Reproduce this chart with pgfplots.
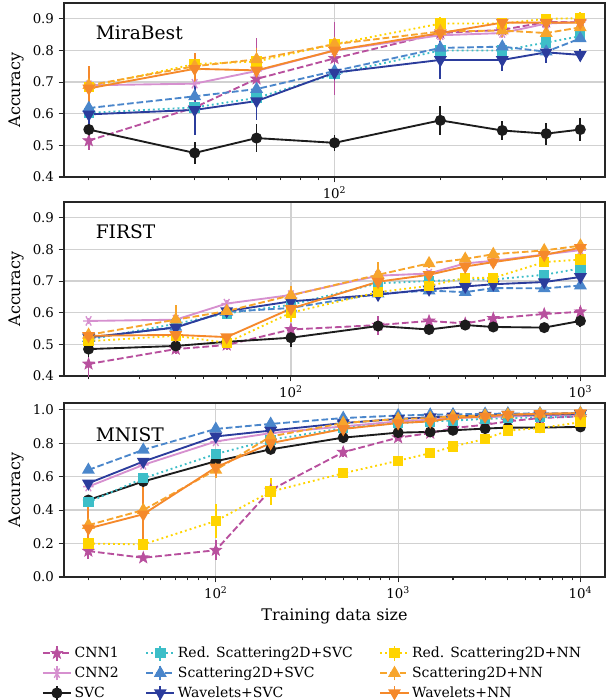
\documentclass[border=0pt]{standalone}
\usepackage{fontspec}
\setmainfont{DejaVu Serif}
\usepackage{pgfplots}
\pgfplotsset{compat=1.18}
\usetikzlibrary{plotmarks}

\definecolor{cA}{HTML}{B8509E}
\definecolor{cB}{HTML}{D690CF}
\definecolor{cC}{HTML}{1C1C1C}
\definecolor{cD}{HTML}{3DBEC8}
\definecolor{cE}{HTML}{4A86CB}
\definecolor{cF}{HTML}{2B3C9C}
\definecolor{cG}{HTML}{FFD400}
\definecolor{cH}{HTML}{F7A52C}
\definecolor{cI}{HTML}{F5892B}

\pgfdeclareplotmark{fstar}{%
  \pgfpathmoveto{\pgfqpointpolar{90}{1.15\pgfplotmarksize}}%
  \pgfpathlineto{\pgfqpointpolar{126}{0.47\pgfplotmarksize}}%
  \pgfpathlineto{\pgfqpointpolar{162}{1.15\pgfplotmarksize}}%
  \pgfpathlineto{\pgfqpointpolar{198}{0.47\pgfplotmarksize}}%
  \pgfpathlineto{\pgfqpointpolar{234}{1.15\pgfplotmarksize}}%
  \pgfpathlineto{\pgfqpointpolar{270}{0.47\pgfplotmarksize}}%
  \pgfpathlineto{\pgfqpointpolar{306}{1.15\pgfplotmarksize}}%
  \pgfpathlineto{\pgfqpointpolar{342}{0.47\pgfplotmarksize}}%
  \pgfpathlineto{\pgfqpointpolar{18}{1.15\pgfplotmarksize}}%
  \pgfpathlineto{\pgfqpointpolar{54}{0.47\pgfplotmarksize}}%
  \pgfpathclose
  \pgfusepathqfillstroke
}

\tikzset{
  mydashed/.style={dash pattern=on 5pt off 2.2pt},
  mydotted/.style={dash pattern=on 1.4pt off 2.3pt},
  sCNNa/.style={color=cA, line width=1.4pt, mydashed, mark=fstar, mark size=4pt, mark options={solid, line width=0.5pt}},
  sCNNb/.style={color=cB, line width=1.4pt, solid, mark=asterisk, mark size=4pt, mark options={solid, rotate=90, line width=1pt}},
  sSVC/.style={color=cC, line width=1.4pt, solid, mark=*, mark size=3.4pt, mark options={solid}},
  sRSVC/.style={color=cD, line width=1.4pt, mydotted, mark=square*, mark size=3.2pt, mark options={solid}},
  sSSVC/.style={color=cE, line width=1.4pt, mydashed, mark=triangle*, mark size=4.2pt, mark options={solid}},
  sWSVC/.style={color=cF, line width=1.4pt, solid, mark=triangle*, mark size=4.2pt, mark options={solid, rotate=180}},
  sRNN/.style={color=cG, line width=1.4pt, mydotted, mark=square*, mark size=3.2pt, mark options={solid}},
  sSNN/.style={color=cH, line width=1.4pt, mydashed, mark=triangle*, mark size=4.2pt, mark options={solid}},
  sWNN/.style={color=cI, line width=1.4pt, solid, mark=triangle*, mark size=4.2pt, mark options={solid, rotate=180}},
}
\pgfplotsset{
  every axis/.append style={
    scale only axis, width=405.75pt, height=130.5pt,
    grid=major, major grid style={draw=black!18, line width=0.9pt},
    axis line style={line width=0.9pt, draw=black!85},
    tick style={black!85, line width=0.8pt},
    tick align=outside,
    major tick length=4pt, minor tick length=2.6pt,
    xtick pos=bottom, ytick pos=left,
    ticklabel style={font=\fontsize{10}{12}\selectfont},
    yticklabel style={/pgf/number format/fixed, /pgf/number format/precision=1, /pgf/number format/fixed zerofill},
    ylabel={Accuracy},
    ylabel style={font=\fontsize{12}{14}\selectfont},
    xlabel style={font=\fontsize{12}{14}\selectfont},
    clip=false,
  },
  every axis plot/.append style={
    error bars/y dir=both, error bars/y explicit,
    error bars/error mark=none,
    error bars/error bar style={line width=1.4pt, solid},
  },
}

\begin{document}
\begin{tikzpicture}
\useasboundingbox (0,0) rectangle (459.75pt,525pt);

% ---------------- MiraBest ----------------
\begin{axis}[xmode=log, at={(48pt,392.25pt)}, anchor=south west,
  /pgf/number format/assume math mode=true,
  xmin=17, xmax=588, ymin=0.4, ymax=0.95,
  xtick={100}, xticklabels={10\textsuperscript{2}},
  minor xtick={20,30,40,50,60,70,80,90,200,300,400,500},
  ytick={0.4,0.5,0.6,0.7,0.8,0.9}]
\node[anchor=west, font=\fontsize{14}{16}\selectfont] at (rel axis cs:0.05,0.83) {MiraBest};
\addplot[sCNNa] table[y error index=2] {
20 0.515 0.03
40 0.620 0.085
60 0.710 0.13
100 0.775 0.115
200 0.855 0.02
300 0.865 0.02
400 0.890 0.02
500 0.890 0.02
};
\addplot[sCNNb] table[y error index=2] {
20 0.690 0.01
40 0.695 0.01
60 0.735 0.02
100 0.800 0.02
200 0.848 0.02
300 0.855 0.015
400 0.885 0.01
500 0.890 0.01
};
\addplot[sSVC] table[y error index=2] {
20 0.550 0.02
40 0.476 0.035
60 0.523 0.045
100 0.508 0.025
200 0.579 0.045
300 0.547 0.03
400 0.537 0.035
500 0.550 0.035
};
\addplot[sRSVC] table[y error index=2] {
20 0.603 0.015
40 0.620 0.01
60 0.650 0.015
100 0.725 0.015
200 0.800 0.01
300 0.800 0.01
400 0.825 0.01
500 0.845 0.01
};
\addplot[sSSVC] table[y error index=2] {
20 0.618 0.01
40 0.655 0.01
60 0.678 0.015
100 0.735 0.01
200 0.808 0.01
300 0.812 0.01
400 0.796 0.01
500 0.838 0.01
};
\addplot[sWSVC] table[y error index=2] {
20 0.598 0.03
40 0.612 0.08
60 0.640 0.06
100 0.730 0.02
200 0.770 0.06
300 0.770 0.035
400 0.794 0.035
500 0.786 0.02
};
\addplot[sRNN] table[y error index=2] {
20 0.685 0.02
40 0.757 0.015
60 0.765 0.02
100 0.820 0.015
200 0.885 0.02
300 0.885 0.01
400 0.900 0.015
500 0.902 0.02
};
\addplot[sSNN] table[y error index=2] {
20 0.690 0.02
40 0.750 0.02
60 0.772 0.02
100 0.820 0.02
200 0.860 0.02
300 0.863 0.02
400 0.855 0.02
500 0.873 0.01
};
\addplot[sWNN] table[y error index=2] {
20 0.680 0.07
40 0.742 0.05
60 0.737 0.07
100 0.800 0.03
200 0.855 0.02
300 0.888 0.015
400 0.888 0.02
500 0.888 0.015
};
\end{axis}

% ---------------- FIRST ----------------
\begin{axis}[xmode=log, at={(48pt,243pt)}, anchor=south west,
  /pgf/number format/assume math mode=true,
  xmin=16.45, xmax=1216, ymin=0.4, ymax=0.95,
  xtick={100,1000}, xticklabels={10\textsuperscript{2},10\textsuperscript{3}},
  minor xtick={20,30,40,50,60,70,80,90,200,300,400,500,600,700,800,900},
  ytick={0.4,0.5,0.6,0.7,0.8,0.9}]
\node[anchor=west, font=\fontsize{14}{16}\selectfont] at (rel axis cs:0.05,0.83) {FIRST};
\addplot[sCNNa] table[y error index=2] {
20 0.438 0.04
40 0.485 0.015
60 0.498 0.015
100 0.547 0.01
200 0.561 0.03
300 0.574 0.015
400 0.566 0.01
500 0.582 0.01
750 0.596 0.01
1000 0.603 0.015
};
\addplot[sCNNb] table[y error index=2] {
20 0.574 0.01
40 0.578 0.01
60 0.629 0.01
100 0.656 0.03
200 0.717 0.02
300 0.724 0.01
400 0.756 0.01
500 0.764 0.01
750 0.784 0.01
1000 0.798 0.01
};
\addplot[sSVC] table[y error index=2] {
20 0.485 0.025
40 0.495 0.02
60 0.508 0.01
100 0.521 0.03
200 0.558 0.015
300 0.547 0.015
400 0.561 0.01
500 0.555 0.015
750 0.553 0.015
1000 0.574 0.02
};
\addplot[sRSVC] table[y error index=2] {
20 0.515 0.01
40 0.565 0.01
60 0.598 0.01
100 0.625 0.01
200 0.693 0.01
300 0.700 0.01
400 0.705 0.01
500 0.705 0.01
750 0.720 0.01
1000 0.740 0.01
};
\addplot[sSSVC] table[y error index=2] {
20 0.520 0.01
40 0.555 0.01
60 0.603 0.01
100 0.615 0.01
200 0.660 0.01
300 0.670 0.01
400 0.665 0.01
500 0.678 0.01
750 0.677 0.01
1000 0.686 0.01
};
\addplot[sWSVC] table[y error index=2] {
20 0.522 0.01
40 0.553 0.01
60 0.605 0.01
100 0.636 0.01
200 0.657 0.01
300 0.674 0.01
400 0.683 0.01
500 0.690 0.01
750 0.697 0.01
1000 0.713 0.01
};
\addplot[sRNN] table[y error index=2] {
20 0.510 0.01
40 0.527 0.01
60 0.505 0.01
100 0.600 0.03
200 0.665 0.02
300 0.685 0.03
400 0.710 0.01
500 0.710 0.01
750 0.760 0.01
1000 0.768 0.015
};
\addplot[sSNN] table[y error index=2] {
20 0.530 0.015
40 0.578 0.045
60 0.605 0.015
100 0.655 0.03
200 0.720 0.04
300 0.756 0.015
400 0.770 0.015
500 0.785 0.015
750 0.797 0.015
1000 0.812 0.015
};
\addplot[sWNN] table[y error index=2] {
20 0.527 0.01
40 0.530 0.01
60 0.523 0.01
100 0.613 0.02
200 0.698 0.02
300 0.720 0.01
400 0.746 0.01
500 0.760 0.01
750 0.783 0.01
1000 0.805 0.01
};
\end{axis}

% ---------------- MNIST ----------------
\begin{axis}[xmode=log, at={(48pt,92.25pt)}, anchor=south west,
  /pgf/number format/assume math mode=true,
  xmin=14.7, xmax=13640, ymin=0, ymax=1.04,
  xtick={100,1000,10000}, xticklabels={10\textsuperscript{2},10\textsuperscript{3},10\textsuperscript{4}},
  minor xtick={20,30,40,50,60,70,80,90,200,300,400,500,600,700,800,900,2000,3000,4000,5000,6000,7000,8000,9000},
  ytick={0,0.2,0.4,0.6,0.8,1.0},
  xlabel={Training data size},
  legend columns=3,
  legend cell align=left,
  legend style={draw=none, fill=none, at={(0.46,-0.37)}, anchor=north,
    font=\fontsize{10.5}{12.5}\selectfont, row sep=1.5pt,
    /tikz/every even column/.append style={column sep=18pt}},
  legend image code/.code={
    \draw[#1, mark=none, solid] (0.37cm,-0.19cm) -- (0.37cm,0.19cm);
    \draw[mark repeat=2, mark phase=2, #1] plot coordinates {(0cm,0cm) (0.37cm,0cm) (0.74cm,0cm)};
  }]
\node[anchor=west, font=\fontsize{14}{16}\selectfont] at (rel axis cs:0.05,0.815) {MNIST};
\addplot[sCNNa, forget plot] table[y error index=2] {
20 0.155 0.05
40 0.115 0.01
100 0.160 0.06
200 0.520 0.04
500 0.746 0.03
1000 0.833 0.01
1500 0.860 0.01
2000 0.890 0.01
3000 0.910 0.01
4000 0.930 0.01
6000 0.950 0.01
10000 0.960 0.01
};
\addplot[sCNNb, forget plot] table[y error index=2] {
20 0.540 0.01
40 0.670 0.01
100 0.810 0.01
200 0.860 0.01
500 0.900 0.01
1000 0.930 0.01
1500 0.940 0.01
2000 0.950 0.01
3000 0.955 0.01
4000 0.960 0.01
6000 0.965 0.01
10000 0.970 0.01
};
\addplot[sSVC, forget plot] table[y error index=2] {
20 0.460 0.01
40 0.571 0.01
100 0.692 0.01
200 0.763 0.01
500 0.833 0.01
1000 0.863 0.01
1500 0.867 0.01
2000 0.877 0.01
3000 0.887 0.01
4000 0.893 0.01
6000 0.893 0.01
10000 0.897 0.01
};
\addplot[sRSVC, forget plot] table[y error index=2] {
20 0.447 0.01
40 0.590 0.01
100 0.735 0.01
200 0.820 0.01
500 0.890 0.01
1000 0.920 0.01
1500 0.930 0.01
2000 0.935 0.01
3000 0.945 0.01
4000 0.950 0.01
6000 0.955 0.01
10000 0.960 0.01
};
\addplot[sSSVC, forget plot] table[y error index=2] {
20 0.640 0.01
40 0.760 0.01
100 0.885 0.01
200 0.915 0.01
500 0.950 0.01
1000 0.965 0.01
1500 0.970 0.01
2000 0.972 0.01
3000 0.975 0.01
4000 0.977 0.01
6000 0.978 0.01
10000 0.980 0.01
};
\addplot[sWSVC, forget plot] table[y error index=2] {
20 0.560 0.01
40 0.690 0.01
100 0.840 0.01
200 0.875 0.01
500 0.920 0.01
1000 0.945 0.01
1500 0.955 0.01
2000 0.960 0.01
3000 0.965 0.01
4000 0.970 0.01
6000 0.970 0.01
10000 0.975 0.01
};
\addplot[sRNN, forget plot] table[y error index=2] {
20 0.200 0.01
40 0.195 0.01
100 0.335 0.10
200 0.510 0.08
500 0.620 0.01
1000 0.695 0.01
1500 0.740 0.01
2000 0.780 0.01
3000 0.825 0.01
4000 0.875 0.01
6000 0.890 0.01
10000 0.925 0.01
};
\addplot[sSNN, forget plot] table[y error index=2] {
20 0.310 0.10
40 0.400 0.12
100 0.640 0.05
200 0.840 0.01
500 0.920 0.01
1000 0.945 0.01
1500 0.950 0.01
2000 0.960 0.01
3000 0.965 0.01
4000 0.970 0.01
6000 0.975 0.01
10000 0.978 0.01
};
\addplot[sWNN, forget plot] table[y error index=2] {
20 0.290 0.15
40 0.375 0.17
100 0.655 0.05
200 0.800 0.01
500 0.885 0.01
1000 0.920 0.01
1500 0.930 0.01
2000 0.950 0.01
3000 0.960 0.01
4000 0.970 0.01
6000 0.975 0.01
10000 0.980 0.01
};
\addlegendimage{sCNNa}\addlegendentry{CNN1}
\addlegendimage{sRSVC}\addlegendentry{Red. Scattering2D+SVC}
\addlegendimage{sRNN}\addlegendentry{Red. Scattering2D+NN}
\addlegendimage{sCNNb}\addlegendentry{CNN2}
\addlegendimage{sSSVC}\addlegendentry{Scattering2D+SVC}
\addlegendimage{sSNN}\addlegendentry{Scattering2D+NN}
\addlegendimage{sSVC}\addlegendentry{SVC}
\addlegendimage{sWSVC}\addlegendentry{Wavelets+SVC}
\addlegendimage{sWNN}\addlegendentry{Wavelets+NN}
\end{axis}
\end{tikzpicture}
\end{document}
